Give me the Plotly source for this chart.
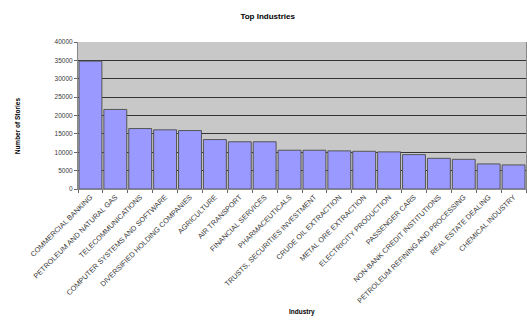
import plotly.graph_objects as go

industries = [
    "COMMERCIAL BANKING", "PETROLEUM AND NATURAL GAS", "TELECOMMUNICATIONS",
    "COMPUTER SYSTEMS AND SOFTWARE", "DIVERSIFIED HOLDING COMPANIES", "AGRICULTURE",
    "AIR TRANSPORT", "FINANCIAL SERVICES", "PHARMACEUTICALS",
    "TRUSTS, SECURITIES INVESTMENT", "CRUDE OIL EXTRACTION", "METAL ORE EXTRACTION",
    "ELECTRICITY PRODUCTION", "PASSENGER CARS", "NON-BANK CREDIT INSTITUTIONS",
    "PETROLEUM REFINING AND PROCESSING", "REAL ESTATE DEALING", "CHEMICAL INDUSTRY",
]
stories = [34800, 21650, 16450, 16100, 15900, 13450, 12850, 12850, 10550,
           10550, 10370, 10260, 10100, 9360, 8350, 8080, 6820, 6550]
y_ticks = [0, 5000, 10000, 15000, 20000, 25000, 30000, 35000, 40000]

fig = go.Figure(go.Bar(
    x=industries, y=stories,
    marker=dict(color="#9999FF", line=dict(color="#555555", width=1)),
))

fig.update_layout(
    width=527, height=323,
    margin=dict(l=78, r=1, t=42, b=134),
    paper_bgcolor="white", plot_bgcolor="#C8C8C8",
    bargap=0.08, showlegend=False,
    font=dict(family="Arial, Liberation Sans, sans-serif", color="#333333"),
    title=dict(text="<b>Top Industries</b>", x=0.508, xanchor="center",
               y=0.95, yanchor="middle", font=dict(size=8, color="black")),
    annotations=[
        dict(text="<b>Industry</b>", xref="paper", yref="paper", x=0.5, y=-0.84,
             xanchor="center", yanchor="middle", showarrow=False,
             font=dict(size=6.5, color="black")),
        dict(text="<b>Number of Stories</b>", xref="paper", yref="paper",
             x=-0.135, y=0.43, xanchor="center", yanchor="middle", textangle=-90,
             showarrow=False, font=dict(size=6.5, color="black")),
    ],
)
fig.update_xaxes(
    tickangle=-45, tickfont=dict(size=7.3, color="#3a3a3a"),
    ticks="outside", ticklen=3, tickcolor="#666666", tickson="boundaries",
    showline=True, linecolor="#888888", linewidth=1,
    automargin=False,
)
fig.update_yaxes(
    range=[0, 40000], tickvals=y_ticks, tickformat="d",
    tickfont=dict(size=6.5, color="#3a3a3a"),
    ticks="outside", ticklen=3, tickcolor="#666666",
    showgrid=True, gridcolor="#333333", gridwidth=1,
    showline=True, linecolor="#888888", linewidth=1, mirror=True,
    zeroline=False, automargin=False,
)
fig.write_html("out.html")
